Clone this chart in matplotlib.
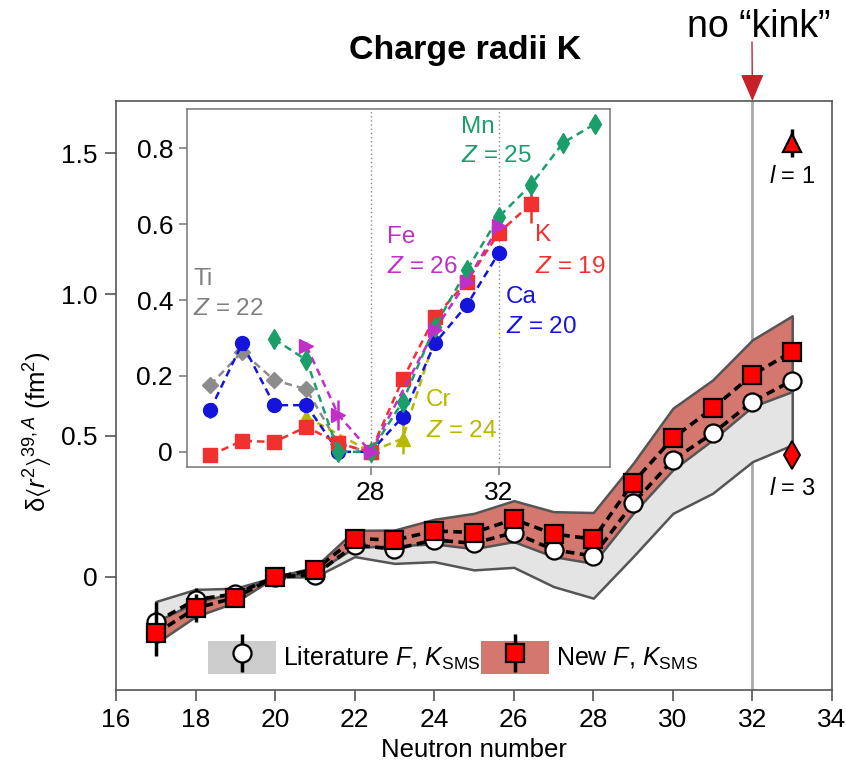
import matplotlib
matplotlib.use("Agg")
import matplotlib.pyplot as plt
from matplotlib.patches import Patch
from matplotlib.lines import Line2D
from matplotlib.legend_handler import HandlerTuple

plt.rcParams['font.family'] = ['Liberation Sans', 'DejaVu Sans']
plt.rcParams['mathtext.fontset'] = 'custom'
plt.rcParams['mathtext.rm'] = 'Liberation Sans'
plt.rcParams['mathtext.it'] = 'Liberation Sans:italic'
plt.rcParams['mathtext.bf'] = 'Liberation Sans:bold'
plt.rcParams['mathtext.fallback'] = 'stixsans'

# ---------------- main data ----------------
N_main = [17, 18, 19, 20, 21, 22, 23, 24, 25, 26, 27, 28, 29, 30, 31, 32, 33]
lit = [-0.16, -0.08, -0.06, 0.0, 0.007, 0.113, 0.098, 0.131, 0.119, 0.157, 0.096, 0.074, 0.261, 0.414, 0.508, 0.620, 0.695]
lit_err = [0.07, 0.04, 0.02, 0.0, 0.01, 0.01, 0.01, 0.01, 0.01, 0.01, 0.01, 0.01, 0.01, 0.01, 0.01, 0.01, 0.01]
new = [-0.20, -0.111, -0.073, 0.0, 0.025, 0.136, 0.130, 0.163, 0.157, 0.204, 0.152, 0.134, 0.334, 0.491, 0.597, 0.715, 0.797]
new_err = [0.08, 0.05, 0.02, 0.0, 0.01, 0.01, 0.01, 0.01, 0.01, 0.01, 0.01, 0.01, 0.01, 0.01, 0.01, 0.01, 0.01]
new_band_hi = [-0.158, -0.09, -0.055, 0.0, 0.035, 0.165, 0.166, 0.204, 0.225, 0.27, 0.231, 0.228, 0.402, 0.597, 0.697, 0.839, 0.924]
new_band_lo = [-0.235, -0.14, -0.09, 0.0, 0.015, 0.105, 0.110, 0.117, 0.10, 0.125, 0.072, 0.048, 0.225, 0.379, 0.485, 0.603, 0.656]
lit_band_hi = [-0.087, -0.044, -0.04, 0.0, 0.02, 0.13, 0.12, 0.15, 0.14, 0.18, 0.12, 0.10, 0.29, 0.44, 0.53, 0.64, 0.72]
lit_band_lo = [-0.21, -0.12, -0.085, 0.0, 0.0, 0.072, 0.048, 0.054, 0.025, 0.034, -0.034, -0.075, 0.072, 0.225, 0.296, 0.408, 0.467]
l1_N, l1_val, l1_err = 33, 1.535, 0.05
l3_N, l3_val, l3_err = 33, 0.43, 0.02

# ---------------- inset data ----------------
Ca_N = [23, 24, 25, 26, 27, 28, 29, 30, 31, 32]
Ca_v = [0.110, 0.286, 0.123, 0.123, 0.0, 0.0, 0.092, 0.286, 0.387, 0.525]
Ti_N = [23, 24, 25, 26, 27, 28]
Ti_v = [0.176, 0.264, 0.189, 0.165, 0.02, 0.0]
Mn_N = [25, 26, 27, 28, 29, 30, 31, 32, 33, 34, 35]
Mn_v = [0.297, 0.242, 0.0, 0.0, 0.132, 0.330, 0.479, 0.620, 0.704, 0.815, 0.865]
Fe_N = [26, 27, 28, 30, 31, 32]
Fe_v = [0.279, 0.097, 0.0, 0.321, 0.449, 0.596]
Cr_N = [26, 28, 29, 30]
Cr_v = [0.092, 0.0, 0.035, 0.30]
K_N = [23, 24, 25, 26, 27, 28, 29, 30, 31, 32, 33]
K_v = [-0.009, 0.029, 0.026, 0.066, 0.022, 0.0, 0.191, 0.355, 0.449, 0.578, 0.654]
K_err = [0.005, 0.01, 0.005, 0.01, 0.005, 0.0, 0.01, 0.01, 0.01, 0.01, 0.05]

fig = plt.figure(figsize=(8.46, 7.62), dpi=100)
ax = fig.add_axes([116/846, 72/762, 716/846, 589/762])

edge = '#555555'
ax.fill_between(N_main, lit_band_lo, lit_band_hi, facecolor='#e4e4e4', edgecolor=edge, linewidth=1.8, zorder=1)
ax.fill_between(N_main, new_band_lo, new_band_hi, facecolor='#d4776e', edgecolor=edge, linewidth=1.8, zorder=2)

ax.axvline(32, color='#aaaaaa', lw=2, zorder=0.5)

ax.errorbar(N_main, lit, yerr=lit_err, fmt='none', ecolor='black', elinewidth=2.5, capsize=0, zorder=3)
ax.plot(N_main, lit, color='black', lw=2.6, dashes=(2.4, 1.5), marker='o', mfc='white', mec='black',
        ms=13, mew=1.6, zorder=3.1)
ax.errorbar(N_main, new, yerr=new_err, fmt='none', ecolor='black', elinewidth=2.5, capsize=0, zorder=4)
ax.plot(N_main, new, color='black', lw=2.6, dashes=(2.4, 1.5), marker='s', mfc='#ff0000', mec='black',
        ms=13, mew=1.6, zorder=4.1)

ax.errorbar([l1_N], [l1_val], yerr=[l1_err], fmt='^', mfc='#ff0000', mec='black', ms=13, mew=1.6,
            ecolor='black', elinewidth=2.5, capsize=0, zorder=5)
ax.errorbar([l3_N], [l3_val], yerr=[l3_err], fmt='d', mfc='#ff0000', mec='black', ms=14, mew=1.4,
            ecolor='black', elinewidth=2.5, capsize=0, zorder=5)
ax.text(33, 1.415, r'$\mathit{l}$ = 1', ha='center', va='center', fontsize=17)
ax.text(33, 0.31, r'$\mathit{l}$ = 3', ha='center', va='center', fontsize=17)

ax.set_xlim(16, 34)
ax.set_ylim(-0.40, 1.684)
ax.set_xticks(range(16, 35, 2))
ax.set_yticks([0, 0.5, 1.0, 1.5])
ax.set_yticklabels(['0', '0.5', '1.0', '1.5'])
ax.tick_params(direction='out', length=8, width=1.2, labelsize=19, color=edge, pad=5)
for s in ax.spines.values():
    s.set_color(edge)
    s.set_linewidth(1.2)
ax.set_xlabel('Neutron number', fontsize=18.5, labelpad=4)
ax.set_ylabel('\u03b4' + r'$\langle \mathit{r}^{2}\rangle^{39,\mathit{A}}$ (fm$^{2}$)', fontsize=18.5)
ax.yaxis.set_label_coords(-0.085, 0.438)

# legend
gray_patch = Patch(facecolor='#cccccc', edgecolor='none')
red_patch = Patch(facecolor='#d4776e', edgecolor='none')
bar = Line2D([], [], ls='none', marker='|', ms=28, mew=2.5, color='black')
circ = Line2D([], [], ls='none', marker='o', ms=13, mfc='white', mec='black', mew=1.6)
sq = Line2D([], [], ls='none', marker='s', ms=13, mfc='#ff0000', mec='black', mew=1.6)
leg = ax.legend([(gray_patch, bar, circ), (red_patch, bar, sq)],
                [r'Literature $\mathit{F}$, $\mathit{K}_{\mathrm{SMS}}$', r'New $\mathit{F}$, $\mathit{K}_{\mathrm{SMS}}$'],
                handler_map={tuple: HandlerTuple(ndivide=1)}, ncol=2, frameon=False,
                loc='lower left', bbox_to_anchor=(0.128, 0.027), fontsize=18,
                handlelength=2.72, handleheight=1.68, handletextpad=0.3, columnspacing=0.0, borderaxespad=0,
                borderpad=0)

# titles and annotation
fig.text(0.55, 0.934, 'Charge radii K', ha='center', va='center', fontsize=24.5, fontweight='bold')
fig.text(0.897, 0.965, 'no \u201ckink\u201d', ha='center', va='center', fontsize=27)
ax.annotate('', xy=(32, 1.684), xycoords='data', xytext=(752/846, 1 - 42/762), textcoords='figure fraction',
            arrowprops=dict(arrowstyle='-|>,head_length=0.77,head_width=0.33', color='#c8202a', lw=1.0,
                            mutation_scale=22, shrinkA=0, shrinkB=0), annotation_clip=False)

# ---------------- inset ----------------
ins = fig.add_axes([187/846, (762 - 467)/762, 423/846, 358/762])
ins.axvline(28, color='#888888', lw=1, ls=(0, (1, 2)), zorder=0)
ins.axvline(32, color='#888888', lw=1, ls=(0, (1, 2)), zorder=0)

def series(x, y, color, marker, ms, yerr=None, z=2):
    ins.errorbar(x, y, yerr=yerr, fmt='none', ecolor=color, elinewidth=1.8, capsize=0, zorder=z)
    ins.plot(x, y, color=color, lw=1.8, dashes=(3, 2), marker=marker, mfc=color, mec=color, ms=ms, zorder=z)

c_ti = '#8c8c8c'; c_cr = '#b8b800'; c_ca = '#1414dc'; c_k = '#f23030'; c_mn = '#1a9e6a'; c_fe = '#c030c8'
series(Ti_N, Ti_v, c_ti, 'D', 8, z=2)
series(Cr_N, Cr_v, c_cr, '^', 10, yerr=[0.01, 0, 0.04, 0.01], z=2.2)
series(Ca_N, Ca_v, c_ca, 'o', 10, yerr=[0.02, 0.01, 0.01, 0.01, 0.01, 0, 0.02, 0.01, 0.01, 0.01], z=2.4)
series(K_N, K_v, c_k, 's', 9.5, yerr=K_err, z=2.6)
series(Mn_N, Mn_v, c_mn, 'd', 10, z=2.8)
series(Fe_N, Fe_v, c_fe, '>', 10, yerr=[0.01, 0.04, 0, 0.01, 0.01, 0.01], z=3)

ins.set_xlim(22.28, 35.46)
ins.set_ylim(-0.040, 0.904)
ins.set_xticks([28, 32])
ins.set_yticks([0, 0.2, 0.4, 0.6, 0.8])
ins.set_yticklabels(['0', '0.2', '0.4', '0.6', '0.8'])
ins.tick_params(direction='out', length=6, width=1.1, labelsize=19, color='#777777', pad=4)
for s in ins.spines.values():
    s.set_color('#777777')
    s.set_linewidth(1.1)

fs = 17.5
ins.text(22.47, 0.455, 'Ti', color='#808080', fontsize=fs, va='center')
ins.text(22.47, 0.376, r'$\mathit{Z}$ = 22', color='#808080', fontsize=fs, va='center')
ins.text(30.81, 0.857, 'Mn', color=c_mn, fontsize=fs, va='center')
ins.text(30.81, 0.781, r'$\mathit{Z}$ = 25', color=c_mn, fontsize=fs, va='center')
ins.text(28.51, 0.567, 'Fe', color=c_fe, fontsize=fs, va='center')
ins.text(28.51, 0.488, r'$\mathit{Z}$ = 26', color=c_fe, fontsize=fs, va='center')
ins.text(33.12, 0.571, 'K', color=c_k, fontsize=fs, va='center')
ins.text(33.12, 0.488, r'$\mathit{Z}$ = 19', color=c_k, fontsize=fs, va='center')
ins.text(32.21, 0.409, 'Ca', color=c_ca, fontsize=fs, va='center')
ins.text(32.21, 0.330, r'$\mathit{Z}$ = 20', color=c_ca, fontsize=fs, va='center')
ins.text(29.72, 0.136, 'Cr', color=c_cr, fontsize=fs, va='center')
ins.text(29.72, 0.054, r'$\mathit{Z}$ = 24', color=c_cr, fontsize=fs, va='center')

fig.savefig('out.png', dpi=100)
